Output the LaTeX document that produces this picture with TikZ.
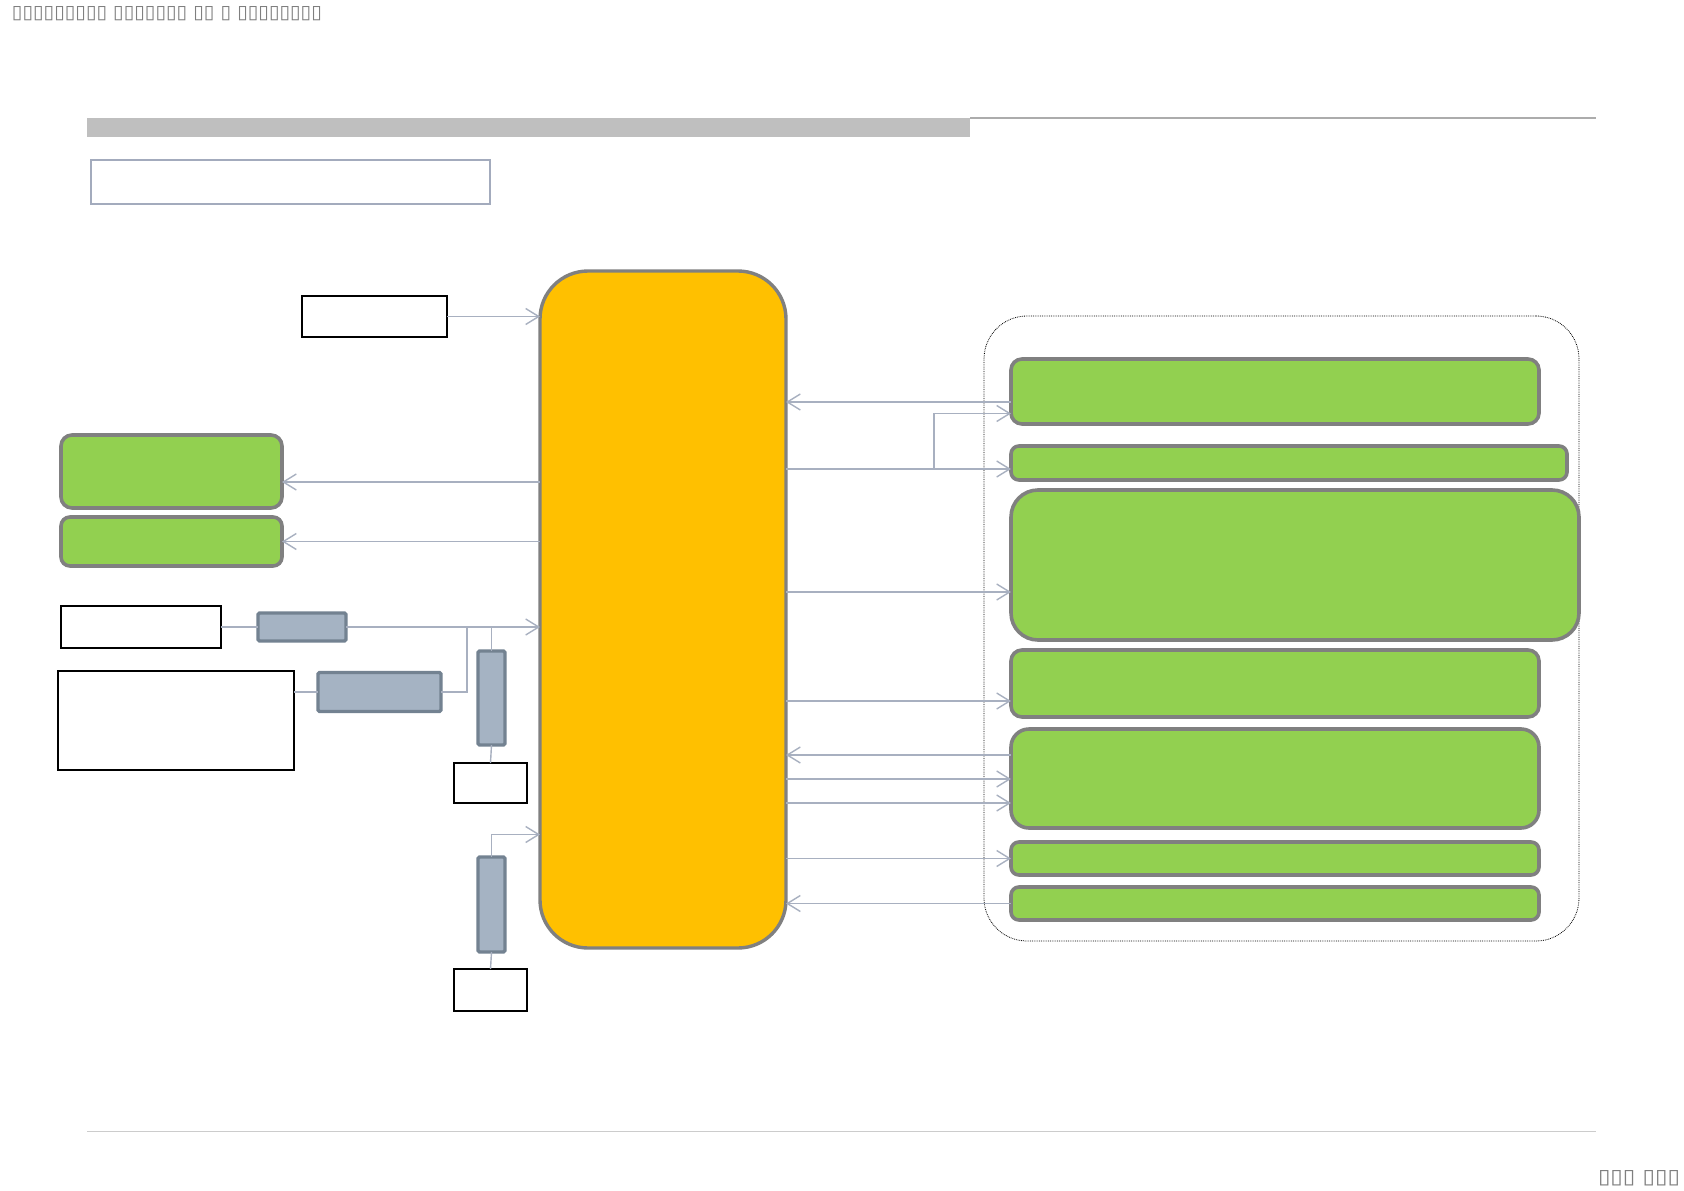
\documentclass[tikz,border=0pt]{standalone}
\usepackage{fontspec}
\usepackage{graphicx}
\newfontfamily\dejavu{DejaVu Sans}
\usetikzlibrary{arrows.meta,calc}
\definecolor{grn}{HTML}{92D050}
\definecolor{ylw}{HTML}{FFC000}
\definecolor{bord}{HTML}{808080}
\definecolor{bbfill}{HTML}{A5B3C3}
\definecolor{bbbord}{HTML}{738291}
\definecolor{conncol}{HTML}{A8B0C0}
\definecolor{hdrbar}{HTML}{BFBFBF}
\definecolor{tofu}{HTML}{7F7F7F}
\definecolor{titlebord}{HTML}{A3ABBD}
\begin{document}
\begin{tikzpicture}[x=1pt,y=-1pt,
  box/.style={inner sep=0pt, outer sep=0pt},
  greenbox/.style={box, draw=bord, line width=3.6pt, fill=grn, rounded corners=#1},
  greenbox/.default=11pt,
  bluebox/.style={box, draw=bbbord, line width=3.4pt, fill=bbfill, rounded corners=1.5pt},
  whitebox/.style={box, draw=black, line width=1.5pt, fill=white},
  line/.style={draw=conncol, line width=1.4pt},
  arr/.style={line, -{Straight Barb[length=13pt,width=16pt]}},
  rarr/.style={line, {Straight Barb[length=13pt,width=16pt]}-}
]
\useasboundingbox[fill=white] (0,0) rectangle (1684,1191);

% header texts
\node[box, anchor=north west, text=tofu] (hdrtext) at (12,7)
  {\resizebox{310pt}{12pt}{\dejavu ▯▯▯▯▯▯▯▯▯ ▯▯▯▯▯▯▯ ▯▯ ▯ ▯▯▯▯▯▯▯▯}};
\node[box, anchor=north west, text=tofu] (pagetext) at (1598,1170)
  {\resizebox{82pt}{13pt}{\dejavu ▯▯▯ ▯▯▯}};

% header bar and rules
\node[box, fill=hdrbar, minimum width=883pt, minimum height=19pt] (bar) at (528.5,127.5) {};
\draw[draw=hdrbar!90!black, line width=1.3pt] (bar.north east) -- ++(626,0) coordinate (barend);
\draw[draw=hdrbar!80!white, line width=1pt] (87,1131) coordinate (bl) -- (1596,1131) coordinate (br);

% title box
\node[box, draw=titlebord, line width=1.5pt, fill=white, minimum width=399pt, minimum height=44pt] (title) at (290.5,182) {};

% central block
\node[box, draw=bord, line width=3.4pt, fill=ylw, rounded corners=48pt,
      minimum width=246pt, minimum height=677pt] (Y) at (663,609.5) {};

% left side
\node[whitebox, minimum width=145pt, minimum height=41pt] (TW) at (374.5,316.5) {};
\node[greenbox, minimum width=221pt, minimum height=73pt] (LG1) at (171.5,471.5) {};
\node[greenbox=9pt, minimum width=221pt, minimum height=49pt] (LG2) at (171.5,541.5) {};
\node[whitebox, minimum width=160pt, minimum height=42pt] (WB1) at (141,627) {};
\node[bluebox, minimum width=88pt, minimum height=28pt] (BB1) at (302,627) {};
\node[whitebox, minimum width=236pt, minimum height=99pt] (WB2) at (176,720.5) {};
\node[bluebox, minimum width=123pt, minimum height=39pt] (BB2) at (379.5,692) {};
\node[bluebox, minimum width=27pt, minimum height=94pt] (BB3) at (491.5,698) {};
\node[whitebox, minimum width=73pt, minimum height=40pt] (SW1) at (490.5,783) {};
\node[bluebox, minimum width=27pt, minimum height=95pt] (BB4) at (491.5,904.5) {};
\node[whitebox, minimum width=73pt, minimum height=42pt] (SW2) at (490.5,990) {};

% right container
\node[box, draw=black, line width=0.8pt, densely dotted, rounded corners=43pt,
      minimum width=595pt, minimum height=625pt] (C) at (1281.5,628.5) {};
\node[greenbox, minimum width=528pt, minimum height=65pt] (R1) at (1275,391.5) {};
\node[greenbox=8pt, minimum width=556pt, minimum height=34pt] (R2) at (1289,463) {};
\node[greenbox=27pt, minimum width=568pt, minimum height=150pt] (R3) at (1295,565) {};
\node[greenbox, minimum width=528pt, minimum height=67pt] (R4) at (1275,683.5) {};
\node[greenbox=18pt, minimum width=528pt, minimum height=99pt] (R5) at (1275,778.5) {};
\node[greenbox=8pt, minimum width=528pt, minimum height=33pt] (R6) at (1275,858.5) {};
\node[greenbox=8pt, minimum width=528pt, minimum height=33pt] (R7) at (1275,903.5) {};

% left connectors
\draw[arr] (TW.east) -- (TW.east -| Y.west);
\draw[rarr] ($(LG1.east)+(0,10.5)$) coordinate (c1) -- (c1 -| Y.west);
\draw[rarr] (LG2.east) -- (LG2.east -| Y.west);
\draw[line] (WB1.east) -- (BB1.west);
\draw[arr] (BB1.east) -- (BB1.east -| Y.west);
\draw[line] (BB2.west) -- (BB2.west -| WB2.east);
\path (BB1.east -| Y.west) coordinate (yin);
\draw[line] (BB2.east) -| ($(BB1.east)!0.624!(yin)$);
\draw[line] (BB3.north) -- (BB3.north |- BB1.east);
\draw[line] (BB3.south) -- (SW1.north);
\draw[arr] (BB4.north) |- ($(Y.west)+(0,225)$);
\draw[line] (BB4.south) -- (SW2.north);

% right connectors
\draw[arr] ($(R1.west)+(0,10.5)$) coordinate (c2) -- (c2 -| Y.east);
\path ($(R2.west)+(0,6)$) coordinate (r2in) ($(R1.west)+(0,22)$) coordinate (r1in)
      ($(Y.east)!0.658!(R1.west)$) coordinate (brx);
\draw[arr] (r2in -| Y.east) -- (r2in);
\draw[arr] (r2in -| brx) |- (r1in);
\draw[rarr] ($(R3.west)+(0,27)$) coordinate (c3) -- (c3 -| Y.east);
\draw[rarr] ($(R4.west)+(0,17.5)$) coordinate (c4) -- (c4 -| Y.east);
\draw[arr] ($(R5.west)+(0,-23.5)$) coordinate (c5) -- (c5 -| Y.east);
\draw[rarr] ($(R5.west)+(0,0.5)$) coordinate (c6) -- (c6 -| Y.east);
\draw[rarr] ($(R5.west)+(0,24.5)$) coordinate (c7) -- (c7 -| Y.east);
\draw[rarr] (R6.west) -- (R6.west -| Y.east);
\draw[arr] (R7.west) -- (R7.west -| Y.east);
\end{tikzpicture}
\end{document}
